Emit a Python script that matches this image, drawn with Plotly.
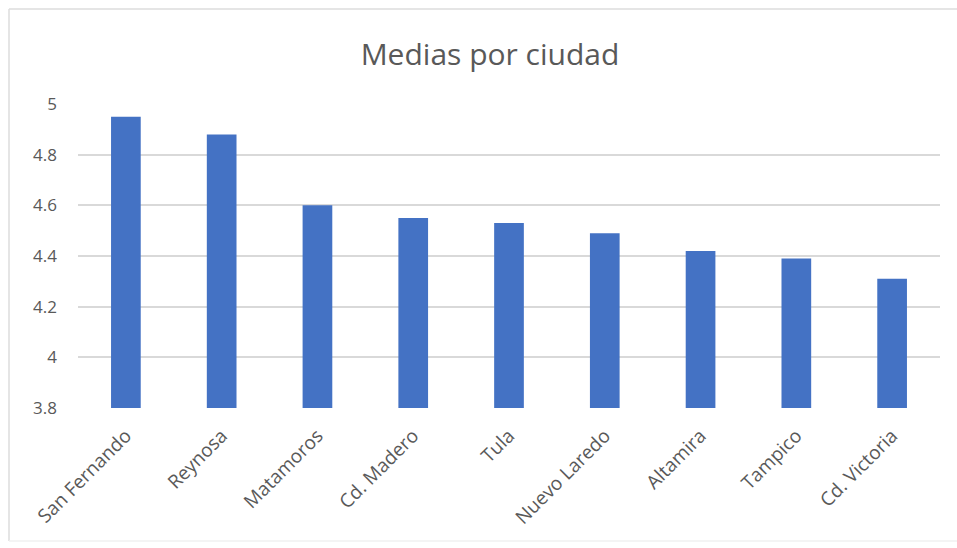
import plotly.graph_objects as go

# Mean score per city
ciudades = ["San Fernando", "Reynosa", "Matamoros", "Cd. Madero", "Tula",
            "Nuevo Laredo", "Altamira", "Tampico", "Cd. Victoria"]
medias = [4.95, 4.88, 4.60, 4.55, 4.53, 4.49, 4.42, 4.39, 4.31]
y_ticks = [3.8, 4.0, 4.2, 4.4, 4.6, 4.8, 5.0]
y_tick_text = ["3.8", "4", "4.2", "4.4", "4.6", "4.8", "5"]

W, H = 957, 548
ML, MR, MT, MB = 78, 17, 104, 140
PW, PH = W - ML - MR, H - MT - MB
FONT = "Open Sans, Noto Sans, sans-serif"
GREY = "#595959"


def px_x(v):
    return (v - ML) / PW


def px_y(v):
    return (H - MB - v) / PH


frame = dict(color="#dcdcdc", width=1.5)

fig = go.Figure(
    go.Bar(
        x=ciudades,
        y=medias,
        marker=dict(color="#4472C4", line=dict(width=0)),
    )
)

fig.update_layout(
    width=W,
    height=H,
    margin=dict(l=ML, r=MR, t=MT, b=MB),
    paper_bgcolor="white",
    plot_bgcolor="white",
    bargap=0.69,
    showlegend=False,
    title=dict(
        text="Medias por ciudad",
        x=490 / W,
        xanchor="center",
        y=1 - 54 / H,
        yanchor="middle",
        font=dict(family=FONT, size=30, color=GREY),
    ),
    font=dict(family=FONT, color=GREY),
    shapes=[
        # chart frame: left, top and a faint bottom edge
        dict(type="line", xref="paper", yref="paper",
             x0=px_x(9), x1=px_x(9), y0=px_y(541), y1=px_y(9),
             line=frame, layer="below"),
        dict(type="line", xref="paper", yref="paper",
             x0=px_x(9), x1=px_x(W + 5), y0=px_y(9), y1=px_y(9),
             line=frame, layer="below"),
        dict(type="line", xref="paper", yref="paper",
             x0=px_x(9), x1=px_x(W + 5), y0=px_y(541), y1=px_y(541),
             line=dict(color="#f0f0f0", width=1.5), layer="below"),
    ],
)

fig.update_xaxes(
    tickangle=-45,
    tickfont=dict(family=FONT, size=19, color=GREY),
    showgrid=False,
    showline=False,
    ticks="",
    ticklabelstandoff=12,
)
fig.update_yaxes(
    range=[3.8, 5.0],
    tickvals=y_ticks,
    ticktext=y_tick_text,
    tickfont=dict(family=FONT, size=17, color=GREY),
    showgrid=True,
    gridcolor="#d9d9d9",
    gridwidth=1.5,
    zeroline=False,
    showline=False,
    ticks="",
    ticklabelstandoff=20,
)

fig.write_html("out.html")
